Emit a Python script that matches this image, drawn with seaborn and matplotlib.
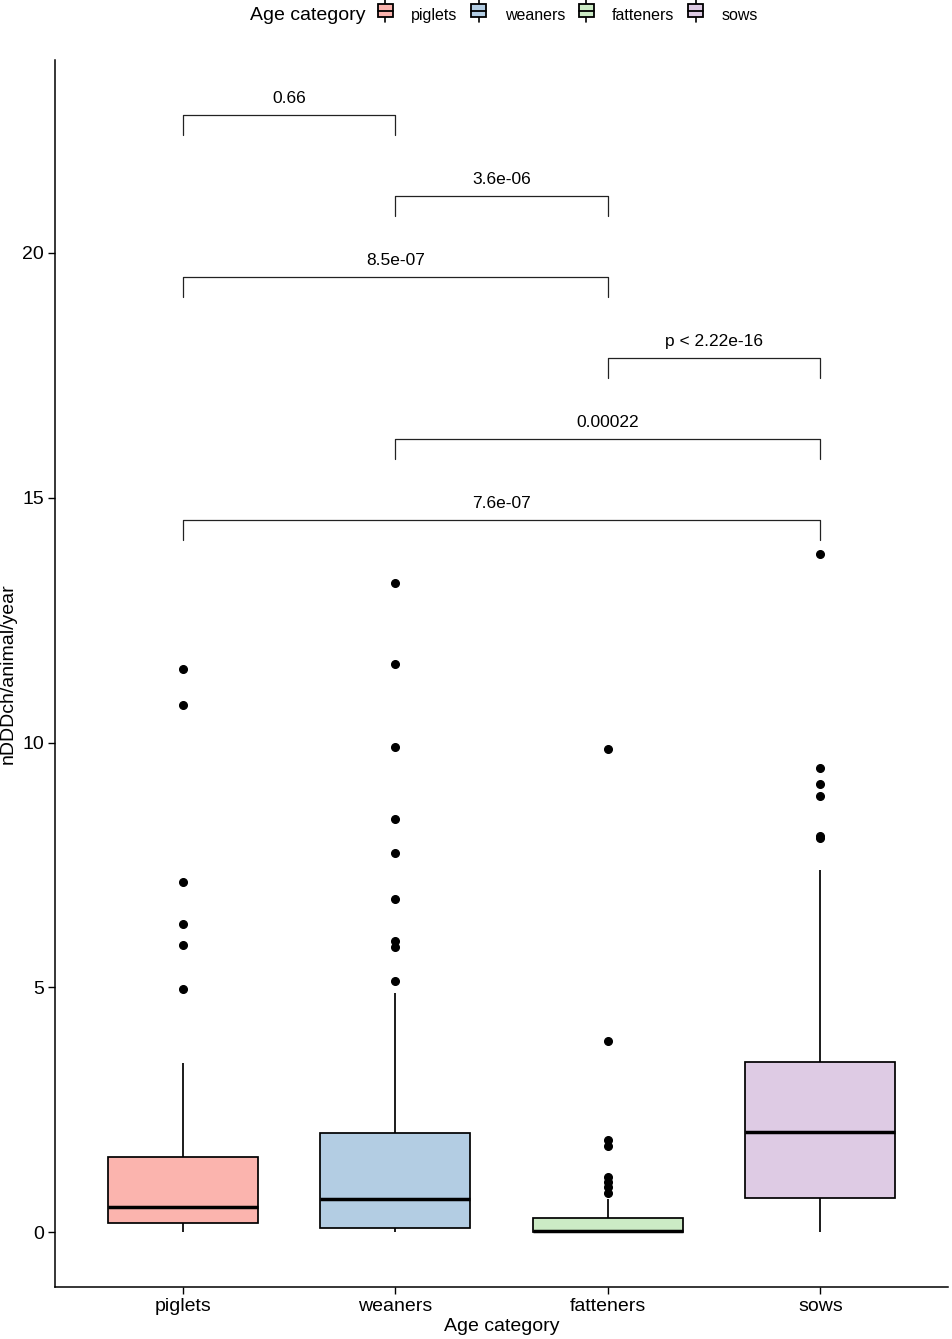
import matplotlib

matplotlib.use("Agg")
import matplotlib.pyplot as plt
import numpy as np
import pandas as pd
import seaborn as sns
from matplotlib.legend_handler import HandlerBase
from matplotlib.lines import Line2D
from matplotlib.patches import Patch, Rectangle

categories = ["piglets", "weaners", "fatteners", "sows"]
piglets = [0.0, 0.0, 0.02, 0.04, 0.06, 0.08, 0.10, 0.12, 0.14, 0.16, 0.18,
           0.20, 0.23, 0.26, 0.29, 0.32, 0.36, 0.40, 0.44, 0.48, 0.52,
           0.58, 0.64, 0.72, 0.80, 0.90, 1.00, 1.15, 1.30, 1.42, 1.54,
           1.80, 2.20, 2.70, 3.45,
           4.97, 5.87, 6.29, 7.16, 10.77, 11.51]
weaners = [0.0, 0.0, 0.0, 0.01, 0.01, 0.02, 0.03, 0.04, 0.05, 0.06, 0.07, 0.07, 0.08,
           0.10, 0.13, 0.16, 0.20, 0.25, 0.30, 0.36, 0.42, 0.49, 0.55, 0.62, 0.68,
           0.78, 0.88, 0.98, 1.10, 1.22, 1.35, 1.48, 1.60, 1.72, 1.84, 1.93, 2.02,
           2.60, 3.50, 4.88,
           5.12, 5.82, 5.94, 6.80, 7.74, 8.43, 9.91, 11.60, 13.25]
fatteners = [0.0, 0.0, 0.0, 0.0, 0.0, 0.0, 0.0, 0.0, 0.0, 0.0, 0.01,
             0.01, 0.01, 0.01, 0.02, 0.02, 0.02, 0.02, 0.03, 0.03, 0.03,
             0.04, 0.05, 0.07, 0.09, 0.11, 0.14, 0.17, 0.20, 0.24, 0.28,
             0.40, 0.67,
             0.79, 0.93, 1.03, 1.13, 1.76, 1.88, 3.91, 9.87]
sows = [0.0, 0.05, 0.10, 0.18, 0.25, 0.32, 0.40, 0.48, 0.55, 0.62, 0.70,
        0.82, 0.95, 1.08, 1.22, 1.36, 1.50, 1.64, 1.78, 1.92, 2.04,
        2.16, 2.30, 2.45, 2.60, 2.75, 2.90, 3.05, 3.20, 3.35, 3.47,
        4.00, 5.20, 6.30, 7.40,
        8.05, 8.10, 8.91, 9.16, 9.48, 13.85]

# pairwise comparisons (Wilcoxon p-values), bottom bracket first
pairs = [("piglets", "sows"), ("weaners", "sows"), ("fatteners", "sows"),
         ("piglets", "fatteners"), ("weaners", "fatteners"), ("piglets", "weaners")]
p_labels = ["7.6e-07", "0.00022", "p < 2.22e-16", "8.5e-07", "3.6e-06", "0.66"]

colors = ["#fbb4ae", "#b3cde3", "#ccebc5", "#decbe4"]

df = pd.concat(
    [pd.DataFrame({"Age category": name, "value": vals})
     for name, vals in zip(categories, [piglets, weaners, fatteners, sows])],
    ignore_index=True,
)


class BoxKey(HandlerBase):
    """Legend key drawn as a tiny boxplot, like ggplot's draw_key_boxplot."""

    def create_artists(self, legend, orig, x0, y0, w, h, fontsize, trans):
        fc = orig.get_facecolor()
        cx = x0 + w / 2
        bw = w * 0.8
        whisk = Line2D([cx, cx], [y0 - h * 0.3, y0 + h * 1.3], color="black", lw=1.2, transform=trans)
        box = Rectangle((cx - bw / 2, y0 + h * 0.05), bw, h * 0.9, facecolor=fc,
                        edgecolor="black", lw=1.3, transform=trans)
        med = Line2D([cx - bw / 2, cx + bw / 2], [y0 + h / 2] * 2, color="black", lw=1.3, transform=trans)
        return [whisk, box, med]


sns.set_theme(style="ticks")
plt.rcParams["font.family"] = ["Liberation Sans", "DejaVu Sans"]
plt.rcParams["text.color"] = "black"
plt.rcParams["axes.labelcolor"] = "black"

fig = plt.figure(figsize=(9.53, 13.39), dpi=100)
ax = fig.add_axes([55 / 953, 1 - 1287 / 1339, 893 / 953, 1227 / 1339])

sns.boxplot(
    data=df, x="Age category", y="value", hue="Age category", order=categories,
    hue_order=categories, palette=colors, saturation=1, width=0.705,
    linecolor="black", linewidth=1.25, showcaps=False, legend=False,
    medianprops={"linewidth": 2.5, "color": "black"},
    flierprops={"marker": "o", "markersize": 5.5, "markerfacecolor": "black",
                "markeredgecolor": "black"},
    ax=ax,
)

# significance brackets
pos = {c: i for i, c in enumerate(categories)}
base, step, tick = 14.55, 1.655, 0.41
for i, ((a, b), lab) in enumerate(zip(pairs, p_labels)):
    h = base + step * i
    x1, x2 = pos[a], pos[b]
    ax.plot([x1, x1, x2, x2], [h - tick, h, h, h - tick], color="#222222", lw=0.9)
    ax.text((x1 + x2) / 2, h + 0.17, lab, ha="center", va="bottom", fontsize=12.5, color="black")

ax.set_xlim(-0.6, 3.6)
ax.set_ylim(-1.12, 23.94)
ax.set_yticks([0, 5, 10, 15, 20])
ax.set_xlabel("Age category", fontsize=14, labelpad=2)
ax.set_ylabel("nDDDch/animal/year", fontsize=14, labelpad=4)
ax.tick_params(axis="both", labelsize=14, length=5, width=1, color="black", labelcolor="black", pad=3)
for side in ["left", "bottom"]:
    ax.spines[side].set_linewidth(1.1)
    ax.spines[side].set_color("black")
sns.despine(ax=ax)

# top legend: title on the left, keys in one row
handles = [Patch(facecolor=c, edgecolor="black") for c in colors]
fig.text(250 / 953, 1 - 16 / 1339, "Age category", ha="left", va="center", fontsize=14)
fig.legend(
    handles, categories, handler_map={Patch: BoxKey()}, loc="center left",
    bbox_to_anchor=(376 / 953, 1 - 15 / 1339), ncol=4, frameon=False,
    fontsize=11.5, handlelength=1.15, handleheight=1.05, handletextpad=1.05,
    columnspacing=0.75, borderaxespad=0, borderpad=0, labelcolor="black",
)

fig.savefig("out.png", dpi=100)
